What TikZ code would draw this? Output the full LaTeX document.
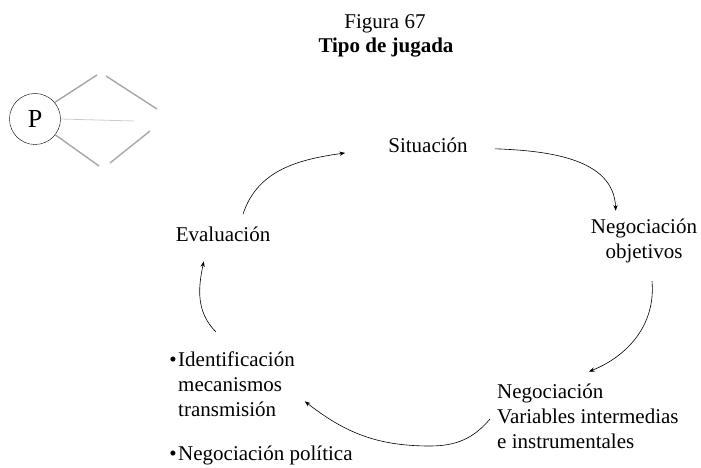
\documentclass[tikz,border=0pt]{standalone}
\usepackage{fontspec}
\setmainfont{Liberation Serif}
\usetikzlibrary{arrows.meta}

\begin{document}
\begin{tikzpicture}[x=1pt,y=-1pt,>=Stealth,
  lbl/.style={inner sep=0pt,font=\fontsize{21}{25}\selectfont},
  blk/.style={lbl,align=left,anchor=north west},
  flow/.style={->,semithick,shorten >=1pt},
  arm/.style={draw=black!35,line width=1.4pt},
  axis/.style={draw=black!20,line width=0.8pt}]
  \useasboundingbox (0,0) rectangle (701,468);
  % title
  \node[lbl,anchor=base] (fig) at (385,29) {Figura 67};
  \node[lbl,anchor=base,font=\fontsize{21}{25}\selectfont\bfseries] (tit) at (386,53) {Tipo de jugada};
  % player symbol
  \node[draw,circle,minimum size=51pt,inner sep=0pt,font=\fontsize{26}{30}\selectfont] (P) at (35,119) {P};
  \coordinate (ua) at (97,75);
  \coordinate (ub) at (106,76);
  \coordinate (uc) at (157,109);
  \coordinate (la) at (99,166);
  \coordinate (lb) at (110,163);
  \coordinate (lc) at (150,131);
  \coordinate (mid) at (134,121);
  \draw[arm] (P.40) -- (ua);
  \draw[arm] (ub) -- (uc);
  \draw[arm] (P.-38) -- (la);
  \draw[arm] (lb) -- (lc);
  \draw[axis] (P.east) -- (mid);
  % cycle
  \node[lbl,anchor=base] (sit) at (428,152) {Situación};
  \node[lbl,anchor=base] (eva) at (223,241) {Evaluación};
  \node[lbl,align=center] (obj) at (644,241) {Negociación\\objetivos};
  \node[blk] (var) at (497,384) {Negociación\\Variables intermedias\\e instrumentales};
  \node[blk] (ide) at (178,352) {\llap{\textbullet\hspace{1.5pt}}Identificación\\mecanismos\\transmisión};
  \node[lbl,anchor=base west] (pol) at (178,460) {\llap{\textbullet\hspace{1.5pt}}Negociación política};
  \coordinate (low) at (430,446);
  \draw[flow] ([shift={(20,-12)}]eva.north) to[out=72,in=188] ([shift={(-42,8)}]sit.west);
  \draw[flow] ([shift={(27,4)}]sit.east) to[out=-2,in=92] ([shift={(25,-7)}]obj.north west);
  \draw[flow] ([shift={(8,18)}]obj.south) to[out=-85,in=22] ([shift={(91,-12)}]var.north west);
  \draw[flow] ([shift={(-7,35)}]var.north west) to[out=-130,in=0] (low) to[out=180,in=-38] ([shift={(9,16)}]ide.east);
  \draw[flow] ([shift={(38,-20)}]ide.north west) to[out=135,in=-102] ([shift={(-19,19)}]eva.south);
\end{tikzpicture}
\end{document}
